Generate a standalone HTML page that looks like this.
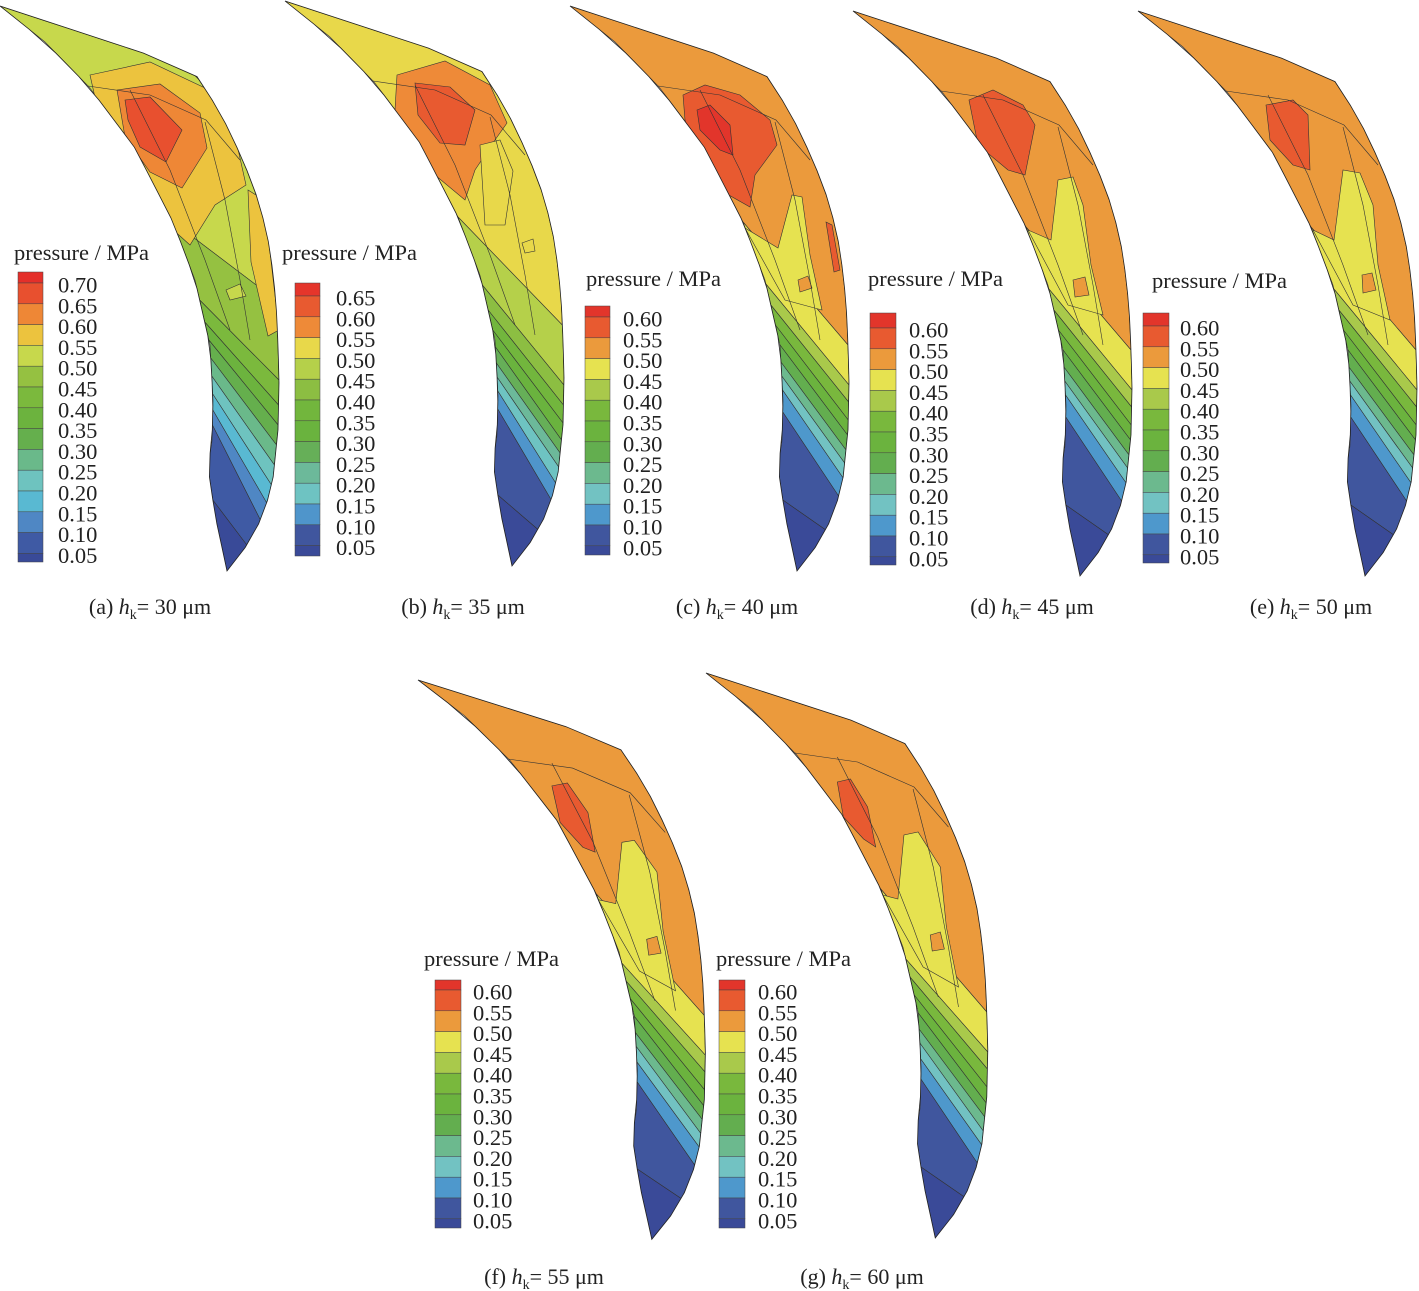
<!DOCTYPE html>
<html><head><meta charset="utf-8">
<style>
html,body{margin:0;padding:0;background:#fff;}
svg{display:block;font-family:"Liberation Serif",serif;}
</style></head>
<body>
<svg id="fig" width="1419" height="1291" viewBox="0 0 1419 1291" xmlns="http://www.w3.org/2000/svg"></svg>
<script>
// ---- data ----
const captions = ["(a)","(b)","(c)","(d)","(e)","(f)","(g)"];
const hkValues = [30,35,40,45,50,55,60];
const labelsA = ["0.70","0.65","0.60","0.55","0.50","0.45","0.40","0.35","0.30","0.25","0.20","0.15","0.10","0.05"];
const labelsB = ["0.65","0.60","0.55","0.50","0.45","0.40","0.35","0.30","0.25","0.20","0.15","0.10","0.05"];
const labelsC = ["0.60","0.55","0.50","0.45","0.40","0.35","0.30","0.25","0.20","0.15","0.10","0.05"];
const paletteA = ['#e42f2a','#e8502f','#ee8736','#ecc33e','#c7d84c','#95c141','#7bb93d','#6cb33e','#65af4d','#6ab98a','#6ec3bf','#59b9d2','#4f87c4','#3f5aa4','#394a98'];
const paletteB = ['#e5352b','#e85a30','#ee8a38','#e8d84a','#b5d04a','#8cbe42','#72b63d','#6ab33e','#66af58','#6cb99a','#6ec3c2','#4f95cb','#40569e','#3a4a98'];
const paletteC = ['#e2352b','#e85a30','#eb9a3c','#e6e250','#a9c94b','#79b83d','#6bb33e','#63ae4f','#6cb98e','#72c2c2','#4e98cc','#40569e','#3a4a98'];
// band boundaries: [inner-edge y, outer-edge y, palette index of band above boundary]
const bandsA = [[222,300,4],[300,380,5],[322,405,6],[340,425,7],[358,445,8],[376,465,9],[394,485,10],[410,503,11],[425,520,12],[500,545,13],[571,571,14]];
const bandsB = [[222,330,3],[290,390,4],[315,410,5],[335,428,6],[352,445,7],[368,458,8],[382,472,9],[396,488,10],[414,505,11],[500,535,12],[571,571,13]];
const bandsC = [[222,345,2],[284,385,3],[305,402,4],[325,420,5],[345,435,6],[362,450,7],[376,463,8],[390,478,9],[412,496,10],[500,530,11],[571,571,12]];
const bandsF = [[222,345,2],[292,385,3],[310,402,4],[328,420,5],[346,436,6],[362,450,7],[376,464,8],[392,478,9],[412,496,10],[500,530,11],[571,571,12]];

// ---- geometry (local coords) ----
const innerEdge = [[0,6],[45,42],[90,88],[135,148],[173,222],[195,280],[210,345],[213,400],[212,441],[208,467],[215,515],[227,571]];
const outerEdge = [[0,6],[192,69],[220,112],[243,160],[260,205],[270,249],[276,300],[278,345],[279,383],[278,430],[273,479],[265,510],[253,536],[240,555],[227,571]];
function xAt(edge,y){
  for(let i=0;i<edge.length-1;i++){const a=edge[i],b=edge[i+1];
    if(y>=a[1]&&y<=b[1]){const t=(y-a[1])/((b[1]-a[1])||1);return a[0]+t*(b[0]-a[0]);}}
  return edge[edge.length-1][0];
}
function sample(edge,y0,y1){const pts=[];const n=24;for(let i=0;i<=n;i++){const y=y0+(y1-y0)*i/n;pts.push([xAt(edge,y),y]);}return pts;}
function pts2(p){return p.map(q=>q[0].toFixed(1)+','+q[1].toFixed(1)).join(' ');}
const shapePts = sample(innerEdge,6,571).concat(sample(outerEdge,571,6));

const panels = [
 {tx:0,ty:0,sx:1,sy:1,pal:paletteA,bands:bandsA,labels:labelsA,
  title:[14,260],bar:[18,272,25,562],lx:58,ly0:285,cap:[150,614],
  blobs:[[3,[[90,75],[150,62],[205,88],[236,140],[246,185],[215,205],[190,245],[160,218],[120,172],[100,120]]],
         [2,[[117,90],[160,84],[200,113],[207,148],[182,188],[150,172],[125,137]]],
         [1,[[125,100],[150,97],[182,130],[166,162],[140,147],[128,120]]],
         [3,[[248,190],[264,200],[279,330],[268,336],[251,262]]],
         [4,[[226,290],[240,284],[246,296],[230,300]]]]},
 {tx:285,ty:-5,sx:1,sy:1,pal:paletteB,bands:bandsB,labels:labelsB,
  title:[282,260],bar:[295,283,25,556],lx:336,ly0:298,cap:[463,614],
  blobs:[[2,[[112,80],[160,66],[205,90],[222,128],[210,145],[190,175],[180,205],[150,180],[120,160],[110,115]]],
         [1,[[130,88],[165,92],[190,115],[180,150],[155,148],[133,120]]],
         [3,[[195,150],[215,145],[228,176],[220,230],[200,230]]],
         [2,[[257,185],[264,185],[278,245],[272,250]]],
         [3,[[237,248],[248,244],[250,256],[240,258]]]]},
 {tx:570,ty:0,sx:1,sy:1,pal:paletteC,bands:bandsC,labels:labelsC,
  title:[586,286],bar:[585,306,25,555],lx:623,ly0:319,cap:[737,614],
  blobs:[[1,[[113,95],[135,85],[170,95],[200,120],[207,145],[185,175],[180,207],[150,190],[125,160],[115,120]]],
         [0,[[127,110],[140,105],[160,125],[163,155],[150,150],[130,130]]],
         [3,[[175,228],[208,248],[222,195],[232,197],[240,255],[252,310],[215,300]]],
         [1,[[256,222],[262,225],[270,270],[264,272]]],
         [2,[[228,280],[238,276],[242,288],[230,292]]]]},
 {tx:853,ty:5,sx:1,sy:1,pal:paletteC,bands:bandsC,labels:labelsC,
  title:[868,286],bar:[870,313,26,565],lx:909,ly0:330,cap:[1032,614],
  blobs:[[1,[[116,95],[140,85],[170,100],[182,120],[172,170],[155,165],[125,140]]],
         [3,[[175,225],[198,235],[205,175],[220,172],[230,200],[238,260],[250,310],[215,300]]],
         [2,[[220,275],[232,272],[236,290],[222,292]]]]},
 {tx:1138,ty:5,sx:1,sy:1,pal:paletteC,bands:bandsC,labels:labelsC,
  title:[1152,288],bar:[1143,313,26,563],lx:1180,ly0:328,cap:[1311,614],
  blobs:[[1,[[128,100],[155,95],[170,110],[172,165],[155,160],[132,135]]],
         [3,[[175,225],[196,235],[205,165],[222,168],[235,200],[240,260],[252,315],[215,300]]],
         [2,[[224,270],[234,268],[238,285],[225,288]]]]},
 {tx:418,ty:674,sx:1.03,sy:0.99,pal:paletteC,bands:bandsF,labels:labelsC,
  title:[424,966],bar:[435,980,26,1228],lx:473,ly0:992,cap:[544,1284],
  blobs:[[1,[[130,113],[145,110],[165,140],[172,180],[160,175],[138,150]]],
         [3,[[175,228],[192,232],[198,170],[210,168],[232,200],[238,260],[250,320],[215,300]]],
         [2,[[222,268],[232,265],[236,282],[224,284]]]]},
 {tx:706,ty:667,sx:1.01,sy:1.0,pal:paletteC,bands:bandsF,labels:labelsC,
  title:[716,966],bar:[719,980,26,1228],lx:758,ly0:992,cap:[862,1284],
  blobs:[[1,[[130,115],[143,112],[160,140],[168,180],[156,172],[136,150]]],
         [3,[[175,228],[190,232],[196,168],[210,165],[232,200],[238,260],[250,320],[215,300]]],
         [2,[[222,268],[232,265],[236,282],[224,284]]]]}
];

const svg=document.getElementById('fig');
const NS='http://www.w3.org/2000/svg';
function mk(tag,attrs,parent){const e=document.createElementNS(NS,tag);for(const k in attrs)e.setAttribute(k,attrs[k]);(parent||svg).appendChild(e);return e;}
const defs=mk('defs',{});

panels.forEach((p,pi)=>{
  const letter=captions[pi].replace(/[()]/g,'');
  const cp=mk('clipPath',{id:'clip'+pi},defs);
  mk('polygon',{points:pts2(shapePts)},cp);
  const g=mk('g',{transform:`translate(${p.tx},${p.ty}) scale(${p.sx},${p.sy})`});
  
  
  const cg=mk('g',{'clip-path':`url(#clip${pi})`},g);
  let prev=[6,6];
  p.bands.forEach((b,bi)=>{
    const poly=sample(innerEdge,prev[0],b[0]).concat(sample(outerEdge,b[1],prev[1]));
    const el=mk('polygon',{points:pts2(poly),fill:p.pal[b[2]],stroke:'#333','stroke-width':0.6},cg);
    
    
    prev=[b[0],b[1]];
  });
  p.blobs.forEach(bl=>{
    const el=mk('polygon',{points:pts2(bl[1]),fill:p.pal[bl[0]],stroke:'#333','stroke-width':0.6},cg);
    
    
  });
  // mesh lines
  mk('polyline',{points:'88,86 150,95 206,120 240,160',fill:'none',stroke:'#333','stroke-width':0.6},cg);
  mk('polyline',{points:'130,90 170,170 205,260 230,330',fill:'none',stroke:'#333','stroke-width':0.6},cg);
  mk('polyline',{points:'205,122 225,200 240,280 250,340',fill:'none',stroke:'#333','stroke-width':0.6},cg);
  const ol=mk('polygon',{points:pts2(shapePts),fill:'none',stroke:'#222','stroke-width':0.8},g);
  
  

  // legend
  const lg=mk('g',{});
  
  
  const t=mk('text',{x:p.title[0],y:p.title[1],'font-size':22.5,fill:'#222'},lg);
  t.textContent='pressure / MPa';
  
  
  const [bx,by,bw,bb]=p.bar;
  const step=20.8;
  const n=p.labels.length;
  const bounds=[by];
  for(let i=0;i<n;i++)bounds.push(p.ly0-2+i*step);
  bounds.push(bb);
  for(let i=0;i<bounds.length-1;i++){
    const r=mk('rect',{x:bx,y:bounds[i],width:bw,height:bounds[i+1]-bounds[i],fill:p.pal[i],stroke:'#444','stroke-width':0.5},lg);
    
    
  }
  p.labels.forEach((lab,i)=>{
    const tx=mk('text',{x:p.lx,y:p.ly0+i*step+7.5,'font-size':22.5,fill:'#222'},lg);
    tx.textContent=lab;
    
    
  });
  // caption
  const c=mk('text',{x:p.cap[0],y:p.cap[1],'font-size':22,fill:'#222','text-anchor':'middle'});
  
  
  c.innerHTML=captions[pi]+' <tspan font-style="italic">h</tspan><tspan font-size="14" dy="5">k</tspan><tspan dy="-5">= '+hkValues[pi]+'  μm</tspan>';
});
</script>
</body></html>
